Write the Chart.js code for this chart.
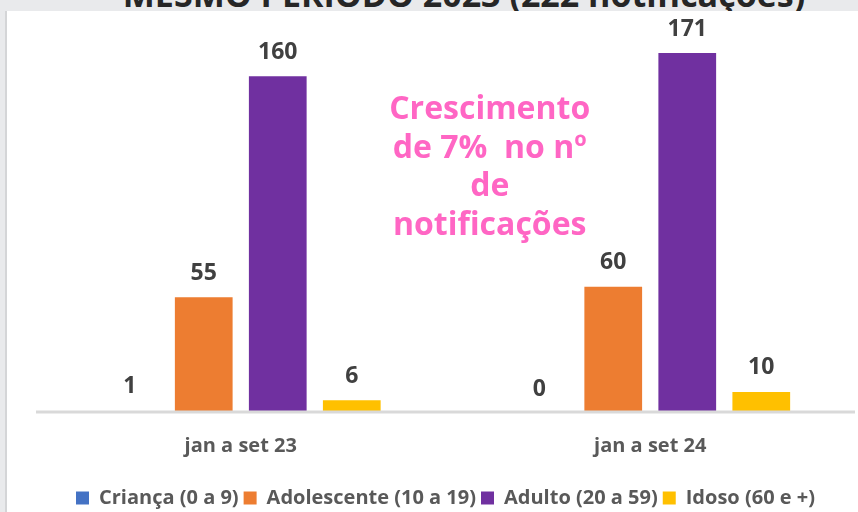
<!DOCTYPE html>
<html lang="pt">
<head>
    <meta charset="UTF-8">
    <title>Notificações por faixa etária</title>
    <script src="https://cdn.jsdelivr.net/npm/chart.js"></script>
    <style>
        html, body {
            margin: 0;
            padding: 0;
            width: 858px;
            height: 512px;
            overflow: hidden;
            background: #e9eaec;
            font-family: "Open Sans", sans-serif;
        }
        #titulo {
            position: absolute;
            left: 0;
            width: 928px;
            top: -23px;
            text-align: center;
            font-size: 34px;
            line-height: 34px;
            font-weight: bold;
            color: #262626;
            white-space: nowrap;
        }
        #painel {
            position: absolute;
            left: 5px;
            top: 11px;
            width: 851px;
            height: 501px;
            overflow: hidden;
            background: #fff;
            border-left: 2px solid #d4d5d7;
        }
    </style>
</head>
<body>
    <div id="titulo">MESMO PERÍODO 2023 (222 notificações)</div>
    <div id="painel">
        <canvas id="grafico" width="851" height="507"></canvas>
    </div>
    <script>
        // dados
        const periodos = ['jan a set 23', 'jan a set 24'];
        const faixas = ['Criança (0 a 9)', 'Adolescente (10 a 19)', 'Adulto (20 a 59)', 'Idoso (60 e +)'];
        const crianca = [1, 0];
        const adolescente = [55, 60];
        const adulto = [160, 171];
        const idoso = [6, 10];
        const cores = ['#4472c4', '#ed7d31', '#7030a0', '#ffc000'];
        const notaLinhas = ['Crescimento', 'de 7%  no nº', 'de', 'notificações'];

        const series = [crianca, adolescente, adulto, idoso];

        // rótulos de valor acima das barras + linha do eixo por cima
        const rotulosPlugin = {
            id: 'rotulos',
            afterDatasetsDraw(chart) {
                const ctx = chart.ctx;
                const area = chart.chartArea;
                ctx.save();
                ctx.strokeStyle = '#d9d9d9';
                ctx.lineWidth = 3;
                ctx.beginPath();
                ctx.moveTo(area.left, area.bottom - 1);
                ctx.lineTo(area.right, area.bottom - 1);
                ctx.stroke();

                ctx.font = 'bold 23px "Open Sans"';
                ctx.fillStyle = '#404040';
                ctx.textAlign = 'center';
                ctx.textBaseline = 'middle';
                chart.data.datasets.forEach((ds, i) => {
                    chart.getDatasetMeta(i).data.forEach((bar, j) => {
                        ctx.fillText(ds.data[j], bar.x, bar.y - 24);
                    });
                });

                // texto em destaque
                ctx.font = 'bold 32px "Open Sans"';
                ctx.fillStyle = '#ff66c4';
                const cx = area.left + (area.right - area.left) * 0.554;
                notaLinhas.forEach((linha, k) => {
                    ctx.fillText(linha, cx, area.top + 97 + k * 38.5);
                });
                ctx.restore();
            }
        };

        new Chart(document.getElementById('grafico'), {
            type: 'bar',
            data: {
                labels: periodos,
                datasets: faixas.map((nome, i) => ({
                    label: nome,
                    data: series[i],
                    backgroundColor: cores[i],
                    categoryPercentage: 0.723,
                    barPercentage: 0.78
                }))
            },
            options: {
                responsive: false,
                animation: false,
                layout: {
                    padding: { left: 29, right: 3, top: 2, bottom: 0 }
                },
                scales: {
                    x: {
                        grid: { display: false },
                        border: { display: false },
                        ticks: {
                            color: '#595959',
                            font: { family: 'Open Sans', size: 20, weight: 'bold' },
                            padding: 13
                        },
                        afterFit(scale) {
                            scale.height += 12;
                        }
                    },
                    y: {
                        display: false,
                        min: 0,
                        max: 190
                    }
                },
                plugins: {
                    legend: {
                        position: 'bottom',
                        labels: {
                            color: '#595959',
                            font: { family: 'Open Sans', size: 20, weight: 'bold' },
                            boxWidth: 13,
                            boxHeight: 13,
                            padding: 5
                        }
                    },
                    tooltip: { enabled: false }
                }
            },
            plugins: [rotulosPlugin]
        });
    </script>
</body>
</html>
